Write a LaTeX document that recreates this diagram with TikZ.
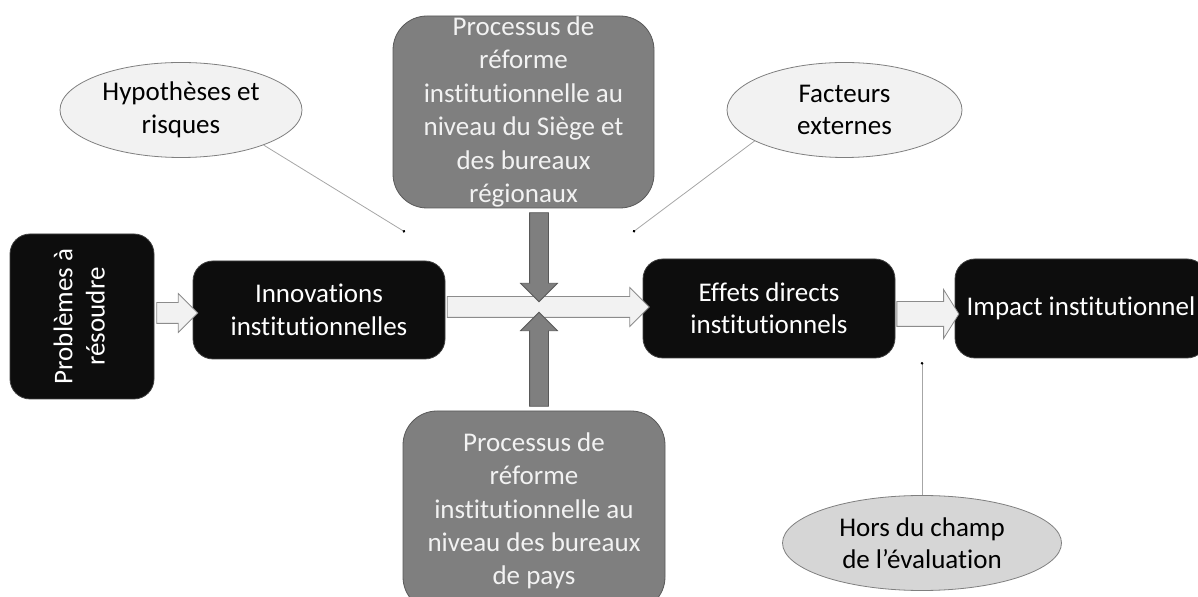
\documentclass[tikz,border=0pt]{standalone}
\usepackage{fontspec}
\setmainfont{Carlito}[Ligatures=NoCommon]
\usepackage{graphicx}
\usetikzlibrary{shapes.geometric,shapes.arrows,arrows.meta}
\definecolor{boxblack}{HTML}{0D0D0D}
\definecolor{boxedge}{HTML}{404040}
\definecolor{boxgray}{HTML}{7F7F7F}
\definecolor{grayedge}{HTML}{595959}
\definecolor{textlight}{HTML}{F2F2F2}
\definecolor{bubblefill}{HTML}{F2F2F2}
\definecolor{bubbleedge}{HTML}{7F7F7F}
\definecolor{scopefill}{HTML}{D6D6D6}
\definecolor{arrowfill}{HTML}{F2F2F2}
\definecolor{arrowedge}{HTML}{8C8C8C}
\definecolor{leadergray}{HTML}{A6A6A6}

\begin{document}
\begin{tikzpicture}[
    x=0.5pt, y=-0.5pt,
    font=\fontsize{13.5}{16.2}\selectfont,
    darkbox/.style={rectangle, rounded corners=10pt, fill=boxblack, draw=boxedge,
      text=white, align=center, inner sep=0pt, minimum width=126pt, minimum height=49pt},
    graybox/.style={rectangle, rounded corners=17pt, fill=boxgray, draw=grayedge,
      text=textlight, align=center, inner sep=0pt, font=\fontsize{13.5}{16.7}\selectfont},
    bubble/.style={ellipse, fill=bubblefill, draw=bubbleedge, align=center,
      inner sep=0pt, minimum height=47.5pt},
    lightarrow/.style={single arrow, fill=arrowfill, draw=arrowedge, inner xsep=0pt,
      inner ysep=5pt, minimum width=0pt, single arrow head extend=4.5pt,
      single arrow head indent=0pt},
    grayarrow/.style={single arrow, fill=boxgray, draw=grayedge, inner xsep=0pt,
      inner ysep=4.5pt, minimum width=0pt, single arrow head extend=4.5pt,
      single arrow head indent=0pt},
    leader/.style={draw=leadergray, line width=0.4pt, -{Circle[length=1.3pt, color=black]}}
  ]
    \useasboundingbox (0,0) rectangle (1198,597);

    \node[darkbox, minimum width=72pt, minimum height=82.5pt] (prob) at (82,316.5)
      {\rotatebox{90}{\begin{tabular}{@{}c@{}}Problèmes à\\résoudre\end{tabular}}};
    \node[darkbox] (innov) at (319,310) {Innovations\\institutionnelles};
    \node[darkbox, minimum height=49.5pt] (effets) at (769,308.5) {Effets directs\\institutionnels};
    \node[darkbox, minimum height=49.5pt] (impact) at (1081,308.5) {Impact institutionnel};

    \node[graybox, minimum width=130.5pt, minimum height=96pt] (siege) at (523.5,112)
      {Processus de\\réforme\\institutionnelle au\\niveau du Siège et\\des bureaux\\régionaux};
    \node[graybox, minimum width=131pt, minimum height=100pt] (pays) at (534,511)
      {Processus de\\réforme\\institutionnelle au\\niveau des bureaux\\de pays};

    \node[bubble, minimum width=121pt] (hyp) at (181,110) {Hypothèses et\\risques};
    \node[bubble, minimum width=117.5pt] (fact) at (844.5,110) {Facteurs\\externes};
    \node[bubble, fill=scopefill, minimum width=139.5pt] (hors) at (922,543)
      {Hors du champ\\de l’évaluation};

    \node[lightarrow, minimum height=20.5pt] (arrprob) at (172,313) {};
    \node[lightarrow, minimum height=101pt] (arrinnov) at (543,307) {};
    \node[lightarrow, minimum height=31pt, inner ysep=6pt, single arrow head extend=6pt,
      single arrow tip angle=116] (arreffets) at (924,314) {};

    \node[grayarrow, minimum height=44.5pt, rotate=-90] (arrsiege) at (539,252.5) {};
    \node[grayarrow, minimum height=47pt, rotate=90] (arrpays) at (539,364) {};

    \coordinate (hypend) at (405,232);
    \coordinate (factend) at (633,232);
    \coordinate (horsend) at (922,362);
    \draw[leader] (hyp.-23) -- (hypend);
    \draw[leader] (fact.199) -- (factend);
    \draw[leader] (hors.north) -- (horsend);
\end{tikzpicture}
\end{document}
